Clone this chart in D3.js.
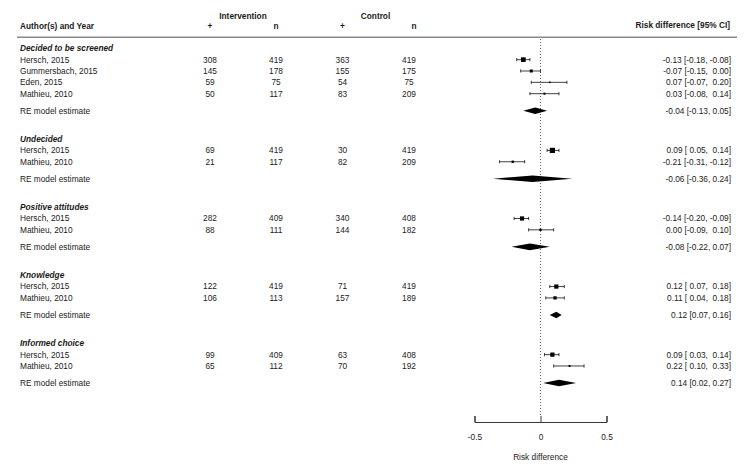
<!DOCTYPE html>
<html>
<head>
<meta charset="utf-8">
<script src="https://cdn.jsdelivr.net/npm/d3@7/dist/d3.min.js"></script>
<style>
  html, body { margin: 0; padding: 0; background: #fff; }
  svg { display: block; }
  text { font-family: "Liberation Sans", Arial, Helvetica, sans-serif; font-size: 8.3px; fill: #1a1a1a; white-space: pre; }
</style>
</head>
<body>
<svg id="chart" width="751" height="469"></svg>
<script>
// ---------------- DATA ----------------
const groups = ["Decided to be screened", "Undecided", "Positive attitudes", "Knowledge", "Informed choice"];

const studyGroup = [0, 0, 0, 0, 1, 1, 2, 2, 3, 3, 4, 4];
const studyAuthors = ["Hersch, 2015", "Gummersbach, 2015", "Eden, 2015", "Mathieu, 2010",
                      "Hersch, 2015", "Mathieu, 2010",
                      "Hersch, 2015", "Mathieu, 2010",
                      "Hersch, 2015", "Mathieu, 2010",
                      "Hersch, 2015", "Mathieu, 2010"];
const intPos = [308, 145, 59, 50, 69, 21, 282, 88, 122, 106, 99, 65];
const intN   = [419, 178, 75, 117, 419, 117, 409, 111, 419, 113, 409, 112];
const ctlPos = [363, 155, 54, 83, 30, 82, 340, 144, 71, 157, 63, 70];
const ctlN   = [419, 175, 75, 209, 419, 209, 408, 182, 419, 189, 408, 192];
const studyEst = [-0.13, -0.07, 0.07, 0.03, 0.09, -0.21, -0.14, 0.00, 0.12, 0.11, 0.09, 0.22];
const studyLo  = [-0.18, -0.15, -0.07, -0.08, 0.05, -0.31, -0.20, -0.09, 0.07, 0.04, 0.03, 0.10];
const studyHi  = [-0.08, 0.00, 0.20, 0.14, 0.14, -0.12, -0.09, 0.10, 0.18, 0.18, 0.14, 0.33];

const reEst = [-0.04, -0.06, -0.08, 0.12, 0.14];
const reLo  = [-0.13, -0.36, -0.22, 0.07, 0.02];
const reHi  = [0.05, 0.24, 0.07, 0.16, 0.27];

const xTicks = [-0.5, 0, 0.5];
const xTickLabels = ["-0.5", "0", "0.5"];

// ---------------- LAYOUT ----------------
const svg = d3.select("#chart");
const x = d3.scaleLinear().domain([-0.5, 0.5]).range([474.5, 606.5]);

// build row indices
const rows = [];
let idx = 0;
groups.forEach((g, gi) => {
  rows.push({type: "header", gi, idx});
  idx += 1;
  studyGroup.forEach((sg, si) => {
    if (sg === gi) { rows.push({type: "study", gi, si, idx}); idx += 1; }
  });
  idx += 0.5;
  rows.push({type: "re", gi, idx});
  idx += 2.5;
});
const maxIdx = d3.max(rows, r => r.idx);
const y = d3.scaleLinear().domain([0, maxIdx]).range([48.3, 383]);

const fmt = d3.format(".2f");
const f2 = v => { let s = fmt(Math.abs(v)); return (v < 0 && Math.abs(v) >= 0.005 ? "-" : "") + s; };
const pad = v => (v < 0 ? "" : " ") + f2(v);
const studyCI = i => `${f2(studyEst[i])} [${pad(studyLo[i])}, ${pad(studyHi[i])}]`;
const reCI = g => `${f2(reEst[g])} [${f2(reLo[g])}, ${f2(reHi[g])}]`;

// columns
const colAuthor = 20, colIntP = 210, colIntN = 276, colCtlP = 342.5, colCtlN = 409, colRight = 731;

// ---------------- HEADER ----------------
svg.append("text").attr("x", 243).attr("y", 15.7).attr("dy", "0.35em").attr("text-anchor", "middle")
  .attr("font-weight", "bold").text("Intervention");
svg.append("text").attr("x", 375.5).attr("y", 15.7).attr("dy", "0.35em").attr("text-anchor", "middle")
  .attr("font-weight", "bold").text("Control");
svg.append("text").attr("x", colAuthor).attr("y", 26).attr("dy", "0.35em")
  .attr("font-weight", "bold").text("Author(s) and Year");
[[colIntP, "+"], [colIntN, "n"], [colCtlP, "+"], [414, "n"]].forEach(([cx, t]) => {
  svg.append("text").attr("x", cx).attr("y", 26.5).attr("dy", "0.35em").attr("text-anchor", "middle")
    .attr("font-weight", "bold").text(t);
});
svg.append("text").attr("x", 730).attr("y", 25).attr("dy", "0.35em").attr("text-anchor", "end")
  .attr("font-weight", "bold").text("Risk difference [95% CI]");

svg.append("line").attr("x1", 17).attr("x2", 737).attr("y1", 37.3).attr("y2", 37.3)
  .attr("stroke", "#8a8a8a").attr("stroke-width", 1.6);

// reference line at 0
svg.append("line").attr("x1", x(0)).attr("x2", x(0)).attr("y1", 39).attr("y2", 416)
  .attr("stroke", "#444").attr("stroke-width", 0.8).attr("stroke-dasharray", "1,2");

// ---------------- ROWS ----------------
const inv = studyGroup.map((_, i) => 1 / (studyHi[i] - studyLo[i]));
const sizeScale = d3.scaleLinear().domain(d3.extent(inv)).range([1.6, 5.2]);

rows.forEach(r => {
  const yy = y(r.idx);
  if (r.type === "header") {
    svg.append("text").attr("x", colAuthor).attr("y", yy).attr("dy", "0.35em")
      .attr("font-weight", "bold").attr("font-style", "italic").text(groups[r.gi]);
  } else if (r.type === "study") {
    const i = r.si;
    svg.append("text").attr("x", colAuthor).attr("y", yy).attr("dy", "0.35em").text(studyAuthors[i]);
    [[colIntP, intPos[i]], [colIntN, intN[i]], [colCtlP, ctlPos[i]], [colCtlN, ctlN[i]]].forEach(([cx, v]) => {
      svg.append("text").attr("x", cx).attr("y", yy).attr("dy", "0.35em").attr("text-anchor", "middle").text(v);
    });
    svg.append("text").attr("x", colRight).attr("y", yy).attr("dy", "0.35em").attr("text-anchor", "end").text(studyCI(i));
    // CI
    const g = svg.append("g").attr("stroke", "#111").attr("stroke-width", 0.8);
    g.append("line").attr("x1", x(studyLo[i])).attr("x2", x(studyHi[i])).attr("y1", yy).attr("y2", yy);
    g.append("line").attr("x1", x(studyLo[i])).attr("x2", x(studyLo[i])).attr("y1", yy - 1.6).attr("y2", yy + 1.6);
    g.append("line").attr("x1", x(studyHi[i])).attr("x2", x(studyHi[i])).attr("y1", yy - 1.6).attr("y2", yy + 1.6);
    const s = sizeScale(inv[i]);
    svg.append("rect").attr("x", x(studyEst[i]) - s / 2).attr("y", yy - s / 2)
      .attr("width", s).attr("height", s).attr("fill", "#000");
  } else {
    const gi = r.gi;
    svg.append("text").attr("x", colAuthor).attr("y", yy).attr("dy", "0.35em").text("RE model estimate");
    svg.append("text").attr("x", colRight).attr("y", yy).attr("dy", "0.35em").attr("text-anchor", "end").text(reCI(gi));
    const h = 3.3;
    const pts = [[x(reLo[gi]), yy], [x(reEst[gi]), yy - h], [x(reHi[gi]), yy], [x(reEst[gi]), yy + h]];
    svg.append("polygon").attr("points", pts.map(p => p.join(",")).join(" ")).attr("fill", "#000");
  }
});

// ---------------- AXIS ----------------
const axis = d3.axisBottom(x).tickValues(xTicks)
  .tickFormat((d, i) => xTickLabels[i]).tickSizeInner(-6).tickSizeOuter(-6).tickPadding(12);
const ax = svg.append("g").attr("transform", "translate(0,422)").call(axis);
ax.select(".domain").attr("stroke", "#222").attr("stroke-width", 0.9);
ax.selectAll(".tick line").attr("stroke", "#222").attr("stroke-width", 0.9);
ax.selectAll(".tick text").attr("font-family", null).attr("font-size", null).attr("fill", "#1a1a1a")
  .style("font-size", "8.3px");

svg.append("text").attr("x", x(0)).attr("y", 457).attr("dy", "0.35em").attr("text-anchor", "middle")
  .text("Risk difference");
</script>
</body>
</html>
